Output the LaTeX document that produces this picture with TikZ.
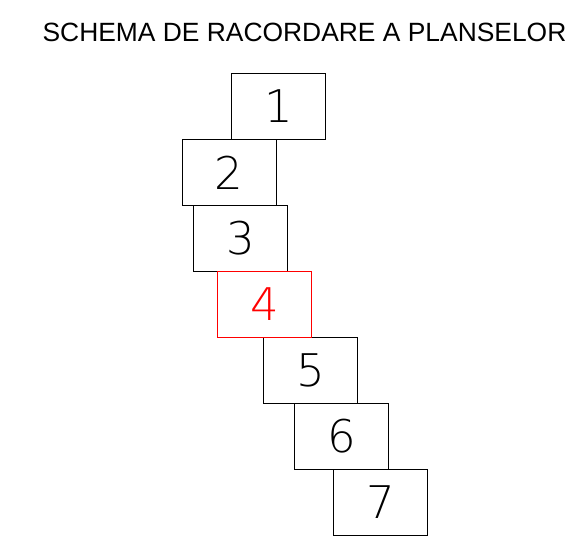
\documentclass[tikz,border=0pt]{standalone}
\usepackage{fontspec}
\setmainfont{Liberation Sans}
\newfontfamily\thinfont{DejaVu Sans ExtraLight}
\begin{document}
\begin{tikzpicture}[x=1pt,y=-1pt,
  sheet/.style={draw=black,line width=0.8pt,minimum width=94pt,minimum height=66pt,inner sep=0pt,anchor=north west,font=\thinfont\fontsize{45}{45}\selectfont},
  redsheet/.style={sheet,draw=red,text=red}]
\useasboundingbox (0,0) rectangle (586,540);
\node[anchor=base,font=\fontsize{26.4}{27}\selectfont] (title) at (304.5,41.5) {SCHEMA DE RACORDARE A PLANSELOR};
\node[sheet] (s1) at (231,73) {1};
\node[sheet] (s2) at (181.5,139) {2};
\node[sheet] (s3) at (193,205) {3};
\node[sheet] (s5) at (263,337) {5};
\node[redsheet] (s4) at (217,271) {4};
\node[sheet] (s6) at (294,403) {6};
\node[sheet] (s7) at (333,469) {7};
\end{tikzpicture}
\end{document}
